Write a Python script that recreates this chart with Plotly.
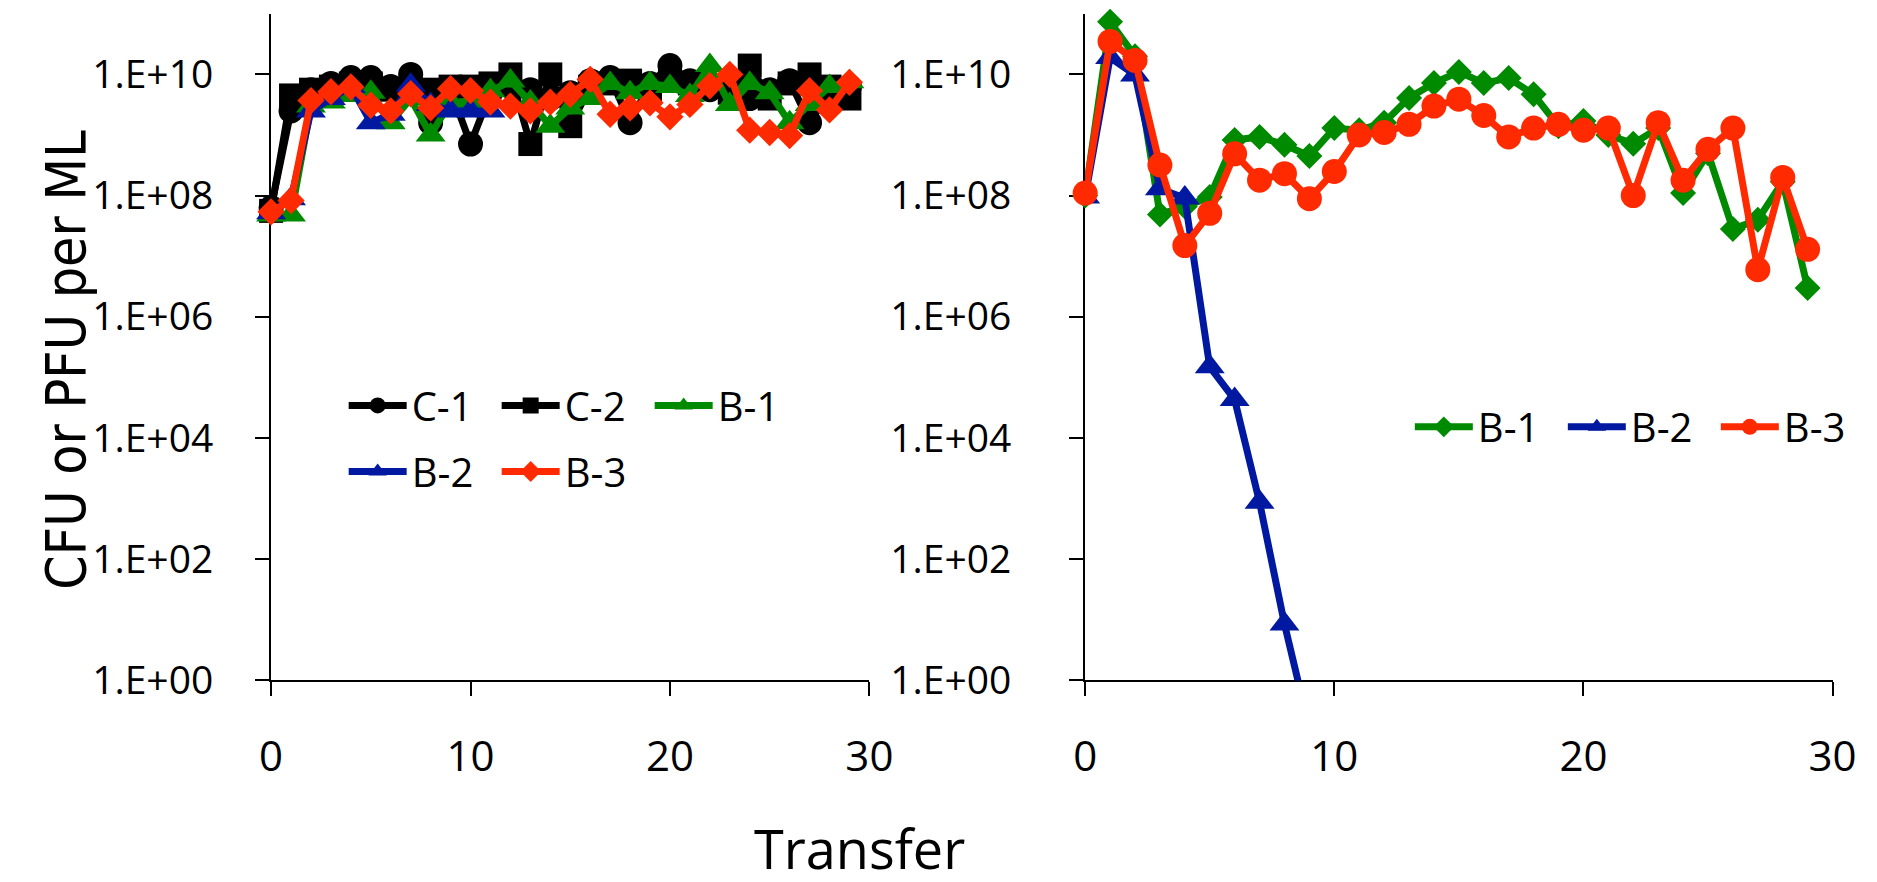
import plotly.graph_objects as go

# ---------------- data ----------------
transfers = list(range(30))

# Left panel (CFU or PFU per ML)
left_c1 = [6.3e7, 2.5e9, 5.6e9, 7.1e9, 8.9e9, 8.9e9, 6.3e9, 1.0e10, 1.6e9, 5.6e9,
           7.1e8, 5.0e9, 6.3e9, 5.6e9, 4.0e9, 5.0e9, 7.9e9, 8.9e9, 1.6e9, 7.1e9,
           1.4e10, 7.9e9, 5.6e9, 6.3e9, 4.0e9, 5.6e9, 7.9e9, 1.6e9, 5.0e9, 6.3e9]
left_c2 = [5.6e7, 4.5e9, 5.6e9, 6.3e9, 7.1e9, 7.1e9, 5.6e9, 6.3e9, 5.6e9, 6.3e9,
           6.3e9, 7.1e9, 1.0e10, 7.1e8, 1.0e10, 1.4e9, 6.3e9, 7.1e9, 7.9e9, 5.0e9,
           7.9e9, 7.1e9, 6.3e9, 5.0e9, 1.4e10, 4.0e9, 7.1e9, 1.0e10, 6.3e9, 4.0e9]
left_b1 = [4.8e7, 4.8e7, 3.0e9, 3.5e9, 4.5e9, 5.1e9, 1.6e9, 4.0e9, 1.0e9, 3.5e9,
           3.5e9, 5.4e9, 7.8e9, 3.5e9, 1.4e9, 2.8e9, 4.0e9, 7.1e9, 5.0e9, 7.1e9,
           6.3e9, 4.5e9, 1.4e10, 3.2e9, 7.1e9, 5.0e9, 1.6e9, 3.2e9, 6.3e9, 7.6e9]
left_b2 = [5.2e7, 8.9e7, 2.5e9, 4.0e9, 6.3e9, 1.6e9, 2.2e9, 6.6e9, 3.2e9, 2.5e9,
           2.5e9, 2.5e9]
left_b3 = [5.4e7, 8.3e7, 3.7e9, 5.2e9, 6.2e9, 3.1e9, 2.5e9, 4.8e9, 2.8e9, 5.8e9,
           5.4e9, 3.5e9, 3.0e9, 2.5e9, 3.5e9, 4.7e9, 8.3e9, 2.2e9, 2.8e9, 3.4e9,
           2.0e9, 3.2e9, 6.5e9, 1.0e10, 1.2e9, 1.1e9, 9.8e8, 5.4e9, 2.6e9, 7.4e9]

# Right panel
right_b1 = [1.0e8, 7.4e10, 2.0e10, 4.9e7, 6.6e7, 9.5e7, 8.3e8, 9.3e8, 6.9e8, 4.5e8,
            1.3e9, 1.2e9, 1.6e9, 4.1e9, 7.2e9, 1.1e10, 7.2e9, 8.7e9, 4.7e9, 1.4e9,
            1.7e9, 1.0e9, 7.2e8, 1.3e9, 1.1e8, 5.0e8, 2.8e7, 4.0e7, 1.7e8, 3.0e6]
right_b2 = [9.5e7, 1.9e10, 9.8e9, 1.3e8, 9.1e7, 1.5e5, 4.3e4, 8.7e2, 8.5e0, 0.16]
right_b3 = [1.1e8, 3.5e10, 1.7e10, 3.2e8, 1.5e7, 5.1e7, 4.9e8, 1.8e8, 2.3e8, 8.9e7,
            2.5e8, 1.0e9, 1.1e9, 1.5e9, 3.0e9, 3.9e9, 2.1e9, 9.3e8, 1.3e9, 1.5e9,
            1.2e9, 1.3e9, 1.0e8, 1.6e9, 1.8e8, 5.8e8, 1.3e9, 6.0e6, 2.0e8, 1.3e7]

y_tick_vals = [1, 1e2, 1e4, 1e6, 1e8, 1e10]
y_tick_text = ["1.E+00", "1.E+02", "1.E+04", "1.E+06", "1.E+08", "1.E+10"]
x_tick_vals = [0, 10, 20, 30]
x_tick_text = ["0", "10", "20", "30"]

# ---------------- style ----------------
BLACK = "#000000"
GREEN = "#008a00"
BLUE = "#0019a0"
RED = "#ff2a00"
FONT = "Open Sans, Liberation Sans, sans-serif"
W, H = 1877, 882

fig = go.Figure()


def add(name, x, y, color, symbol, size, xa, ya, legend, clip=False):
    fig.add_trace(go.Scatter(
        x=x, y=y, name=name, mode="lines+markers",
        line=dict(color=color, width=7),
        marker=dict(symbol=symbol, size=size, color=color),
        xaxis=xa, yaxis=ya, legend=legend, cliponaxis=clip,
    ))


# left panel
add("C-1", transfers, left_c1, BLACK, "circle", 25, "x", "y", "legend")
add("C-2", transfers, left_c2, BLACK, "square", 24, "x", "y", "legend")
add("B-1", transfers, left_b1, GREEN, "triangle-up", 26, "x", "y", "legend")
add("B-2", transfers[:len(left_b2)], left_b2, BLUE, "triangle-up", 26, "x", "y", "legend2")
add("B-3", transfers, left_b3, RED, "diamond", 21, "x", "y", "legend2")
# right panel
add("B-1", transfers, right_b1, GREEN, "diamond", 20, "x2", "y2", "legend3")
add("B-2", transfers[:len(right_b2)], right_b2, BLUE, "triangle-up", 26, "x2", "y2", "legend3", clip=True)
add("B-3", transfers, right_b3, RED, "circle", 25, "x2", "y2", "legend3")

yb = 1 - 692 / H
yt = 1 - 6 / H

xaxis_common = dict(
    range=[0, 30], tickvals=x_tick_vals, ticktext=x_tick_text,
    showline=True, linecolor="black", linewidth=2, ticks="outside",
    ticklen=14, tickwidth=2, tickcolor="black", showgrid=False, zeroline=False,
    tickfont=dict(family=FONT, size=42, color="black"), ticklabelstandoff=24,
    layer="below traces", fixedrange=True,
)
yaxis_common = dict(
    type="log", range=[0, 11], tickvals=y_tick_vals, ticktext=y_tick_text,
    showline=True, linecolor="black", linewidth=2, ticks="outside",
    ticklen=14, tickwidth=2, tickcolor="black", showgrid=False, zeroline=False,
    tickfont=dict(family=FONT, size=39, color="black"),
    layer="below traces", fixedrange=True,
)

legend_common = dict(
    orientation="h", xanchor="left", yanchor="middle",
    bgcolor="rgba(0,0,0,0)", borderwidth=0,
    font=dict(family=FONT, size=40, color="black"),
    itemwidth=58, entrywidth=80, entrywidthmode="pixels",
    traceorder="normal", itemclick=False, itemdoubleclick=False,
)

fig.update_layout(
    width=W, height=H,
    margin=dict(l=0, r=0, t=0, b=0),
    paper_bgcolor="white", plot_bgcolor="white",
    showlegend=True,
    xaxis=dict(domain=[256 / W, 866 / W], anchor="y", **xaxis_common),
    yaxis=dict(domain=[yb, yt], anchor="x", ticklabelstandoff=34, **yaxis_common),
    xaxis2=dict(domain=[1086 / W, 1848 / W], anchor="y2", **xaxis_common),
    yaxis2=dict(domain=[yb, yt], anchor="x2", ticklabelstandoff=50, **yaxis_common),
    legend=dict(x=330 / W, y=1 - 409 / H, **legend_common),
    legend2=dict(x=330 / W, y=1 - 477 / H, **legend_common),
    legend3=dict(x=1417 / W, y=1 - 431 / H, **legend_common),
    annotations=[
        dict(text="CFU or PFU per ML", textangle=-90, x=47 / W, y=1 - 362 / H,
             xref="paper", yref="paper", xanchor="center", yanchor="middle",
             showarrow=False,
             font=dict(family="Liberation Sans Narrow, DejaVu Sans Condensed, sans-serif",
                       size=55, color="black")),
        dict(text="Transfer", x=856 / W, y=1 - 864 / H,
             xref="paper", yref="paper", xanchor="center", yanchor="middle",
             showarrow=False,
             font=dict(family=FONT, size=54, color="black")),
    ],
)

fig.write_html("out.html")
